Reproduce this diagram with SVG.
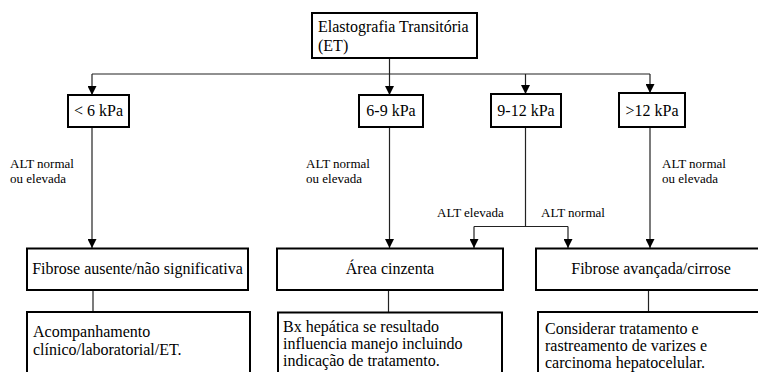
<svg xmlns="http://www.w3.org/2000/svg" width="758" height="372" viewBox="0 0 758 372">
  <defs>
    <style>
      .box { fill: #ffffff; stroke: #000000; stroke-width: 2; }
      .t { font-family: 'Liberation Serif', 'DejaVu Serif', serif; font-size: 16px; fill: #000000; }
      .s { font-family: 'Liberation Serif', 'DejaVu Serif', serif; font-size: 13px; fill: #000000; }
      .c { text-anchor: middle; }
      .wire { fill: none; stroke: #222222; stroke-width: 1.2; }
    </style>
    <marker id="arrow" viewBox="0 0 10 10" refX="10" refY="5" markerWidth="9" markerHeight="9" markerUnits="userSpaceOnUse" orient="auto">
      <path d="M0,0 L10,5 L0,10 Z" fill="#000000"/>
    </marker>
  </defs>
  <rect width="758" height="372" fill="#ffffff"/>

  <!-- connectors -->
  <g id="connectors">
    <path class="wire" d="M389.5,58 V74"/>
    <path class="wire" d="M92,74 H650"/>
    <path class="wire" d="M92,74 V95" marker-end="url(#arrow)"/>
    <path class="wire" d="M389.5,74 V95" marker-end="url(#arrow)"/>
    <path class="wire" d="M525.5,74 V94" marker-end="url(#arrow)"/>
    <path class="wire" d="M650,74 V93" marker-end="url(#arrow)"/>

    <path class="wire" d="M92,127 V248" marker-end="url(#arrow)"/>
    <path class="wire" d="M389.5,127 V248" marker-end="url(#arrow)"/>
    <path class="wire" d="M650,127 V248" marker-end="url(#arrow)"/>
    <path class="wire" d="M525.5,127 V226.5"/>
    <path class="wire" d="M474,226.5 H568"/>
    <path class="wire" d="M474,226.5 V248" marker-end="url(#arrow)"/>
    <path class="wire" d="M568,226.5 V248" marker-end="url(#arrow)"/>

    <path class="wire" d="M93,290 V312"/>
    <path class="wire" d="M388.5,290 V312"/>
    <path class="wire" d="M648.5,290 V312"/>

    <text class="s" x="10" y="168">ALT normal</text>
    <text class="s" x="10" y="183">ou elevada</text>
    <text class="s" x="306" y="168">ALT normal</text>
    <text class="s" x="306" y="183">ou elevada</text>
    <text class="s" x="662" y="168">ALT normal</text>
    <text class="s" x="662" y="183">ou elevada</text>
    <text class="s" x="437" y="217">ALT elevada</text>
    <text class="s" x="541" y="217">ALT normal</text>
  </g>

  <g id="et">
    <rect class="box" x="312" y="13" width="165" height="45"/>
    <text class="t" x="318" y="32">Elastografia Transitória</text>
    <text class="t" x="318" y="51">(ET)</text>
  </g>

  <g id="lt6">
    <rect class="box" x="68" y="95" width="61" height="32"/>
    <text class="t c" x="98.5" y="116">&lt; 6 kPa</text>
  </g>
  <g id="r6to9">
    <rect class="box" x="359" y="95" width="64" height="32"/>
    <text class="t c" x="391" y="116">6-9 kPa</text>
  </g>
  <g id="r9to12">
    <rect class="box" x="491" y="94" width="70" height="33"/>
    <text class="t c" x="526" y="116">9-12 kPa</text>
  </g>
  <g id="gt12">
    <rect class="box" x="619" y="93" width="66" height="34"/>
    <text class="t c" x="652" y="116">&gt;12 kPa</text>
  </g>

  <g id="fibrose-ausente">
    <rect class="box" x="27" y="248.5" width="221" height="41.5"/>
    <text class="t c" x="137.5" y="274">Fibrose ausente/não significativa</text>
  </g>
  <g id="area-cinzenta">
    <rect class="box" x="277" y="248.5" width="226" height="41.5"/>
    <text class="t c" x="390" y="274">Área cinzenta</text>
  </g>
  <g id="fibrose-avancada">
    <rect class="box" x="536" y="248.5" width="240" height="41.5"/>
    <text class="t c" x="651" y="274">Fibrose avançada/cirrose</text>
  </g>

  <g id="acompanhamento">
    <rect class="box" x="27" y="312" width="223" height="70"/>
    <text class="t" x="33" y="337">Acompanhamento</text>
    <text class="t" x="33" y="355">clínico/laboratorial/ET.</text>
  </g>
  <g id="biopsia">
    <rect class="box" x="278" y="312.5" width="224" height="70"/>
    <text class="t" x="283" y="332">Bx hepática se resultado</text>
    <text class="t" x="283" y="349">influencia manejo incluindo</text>
    <text class="t" x="283" y="366">indicação de tratamento.</text>
  </g>
  <g id="tratamento">
    <rect class="box" x="538" y="312" width="240" height="70"/>
    <text class="t" x="545" y="334">Considerar tratamento e</text>
    <text class="t" x="545" y="351">rastreamento de varizes e</text>
    <text class="t" x="545" y="368">carcinoma hepatocelular.</text>
  </g>
</svg>
